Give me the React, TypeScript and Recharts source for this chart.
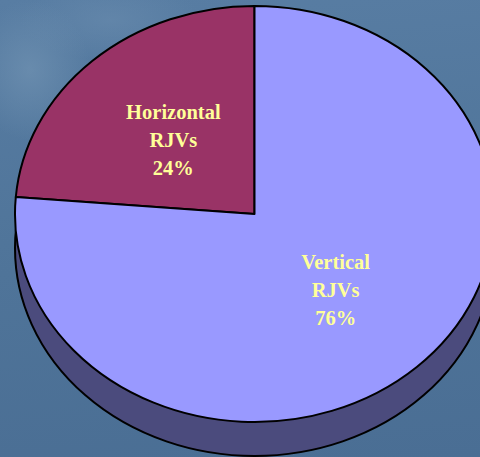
import { PieChart, Pie, Cell } from "recharts";

const sliceNames = ["Horizontal", "Vertical"];
const sliceValues = [23.7, 76.3];
const sliceLabels = ["24%", "76%"];
const sliceColors = ["#993366", "#9999ff"];
const wallValues = [100];

const WIDTH = 480;
const HEIGHT = 457;
const CX = 254.5;
const CY = 214;
const RX = 239.5;
const RY = 208;
const DEPTH = 34;

const toXY = (cx: number, cy: number, deg: number) => {
  const rad = (deg * Math.PI) / 180;
  return [cx + RX * Math.cos(rad), cy - RY * Math.sin(rad)];
};

// recharts only knows circles, so the sector is redrawn as a tilted ellipse
function EllipseSector(props: any) {
  const { cx, cy, startAngle, endAngle, fill } = props;
  const sweep = Math.abs(endAngle - startAngle);
  if (sweep >= 359.9) {
    return (
      <ellipse cx={cx} cy={cy} rx={RX} ry={RY} fill={fill} stroke="#000" strokeWidth={2} />
    );
  }
  const [x1, y1] = toXY(cx, cy, startAngle);
  const [x2, y2] = toXY(cx, cy, endAngle);
  const d = `M${cx},${cy} L${x1},${y1} A${RX},${RY} 0 ${sweep > 180 ? 1 : 0} 0 ${x2},${y2} Z`;
  return <path d={d} fill={fill} stroke="#000" strokeWidth={2} strokeLinejoin="round" />;
}

function SliceLabel(props: any) {
  const { cx, cy, midAngle, index } = props;
  const rad = (midAngle * Math.PI) / 180;
  const x = cx + 0.5 * RX * Math.cos(rad);
  const y = cy - 0.49 * RY * Math.sin(rad);
  const lines = [sliceNames[index], "RJVs", sliceLabels[index]];
  return (
    <text
      x={x}
      y={y - 20}
      textAnchor="middle"
      fill="#ffff99"
      fontFamily="'Liberation Serif', serif"
      fontWeight="bold"
      fontSize={20.5}
    >
      {lines.map((line, i) => (
        <tspan key={line} x={x} dy={i === 0 ? 0 : 28}>
          {line}
        </tspan>
      ))}
    </text>
  );
}

export default function App() {
  const sliceData = sliceNames.map((name, i) => ({ name, value: sliceValues[i] }));
  const wallData = wallValues.map((value) => ({ name: "wall", value }));

  return (
    <div
      style={{
        position: "fixed",
        left: 0,
        top: 0,
        width: WIDTH,
        height: HEIGHT,
        overflow: "hidden",
        background:
          "radial-gradient(ellipse 60px 70px at 30px 70px, rgba(112,146,178,0.7) 0%, rgba(112,146,178,0) 100%), radial-gradient(ellipse 90px 40px at 110px 20px, rgba(108,142,176,0.5) 0%, rgba(108,142,176,0) 100%), linear-gradient(175deg, #587da3 0%, #4f7499 55%, #4a6e94 100%)",
      }}
    >
      <PieChart width={WIDTH} height={HEIGHT} margin={{ top: 0, right: 0, bottom: 0, left: 0 }}>
        <Pie
          data={wallData}
          dataKey="value"
          cx={CX}
          cy={CY + DEPTH}
          outerRadius={RX}
          startAngle={90}
          endAngle={450}
          stroke="none"
          fill="#4b4b7d"
          shape={EllipseSector}
          isAnimationActive={false}
        />
        <Pie
          data={sliceData}
          dataKey="value"
          cx={CX}
          cy={CY}
          outerRadius={RX}
          startAngle={90}
          endAngle={450}
          paddingAngle={0}
          shape={EllipseSector}
          label={SliceLabel}
          labelLine={false}
          isAnimationActive={false}
        >
          {sliceData.map((d, i) => (
            <Cell key={d.name} fill={sliceColors[i]} />
          ))}
        </Pie>
      </PieChart>
    </div>
  );
}
